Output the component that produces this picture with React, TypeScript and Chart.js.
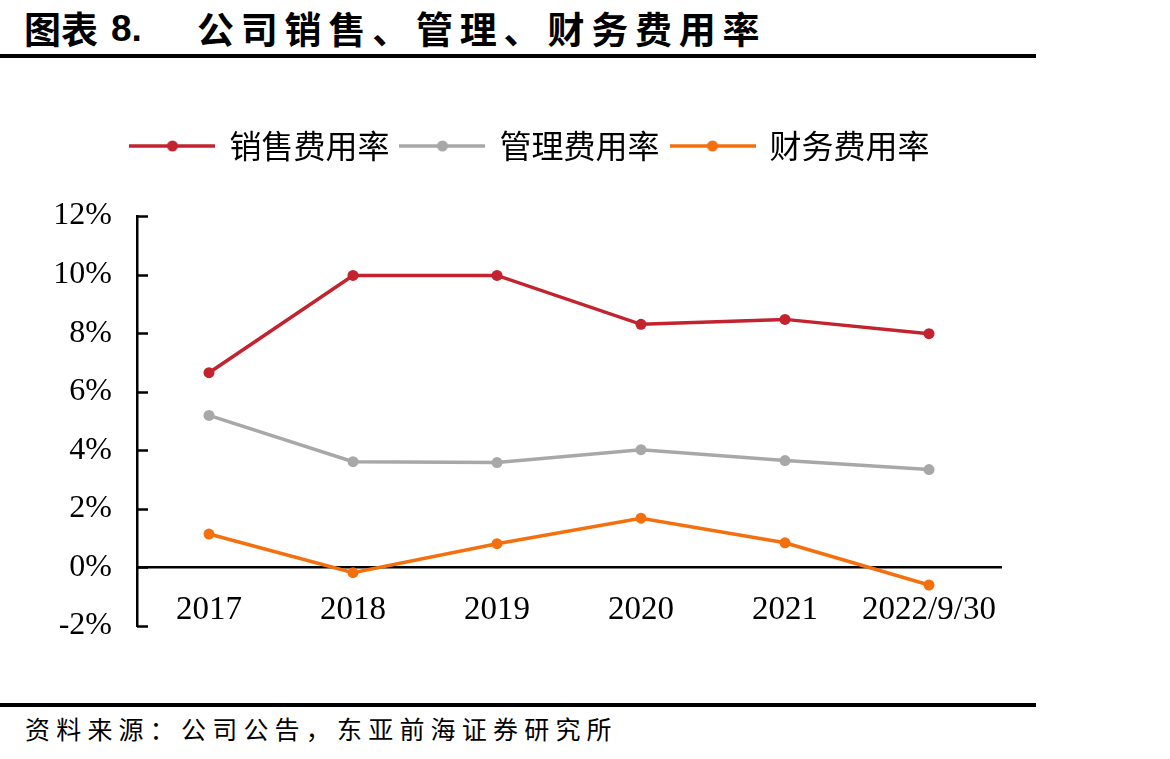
import React, { useEffect, useRef } from "react";
import { Chart, registerables } from "chart.js";

Chart.register(...registerables);

// Expense ratios (%) by reporting period
const periods = ["2017", "2018", "2019", "2020", "2021", "2022/9/30"];
const sellingRate = [6.65, 9.97, 9.97, 8.3, 8.47, 7.98];
const adminRate = [5.19, 3.61, 3.58, 4.02, 3.65, 3.34];
const financeRate = [1.14, -0.18, 0.81, 1.68, 0.84, -0.6];

const seriesNames = ["销售费用率", "管理费用率", "财务费用率"];
const seriesColors = ["#C3232E", "#A8A8A8", "#F4700F"];

const yTickMin = -2;
const yTickMax = 12;
const yTickStep = 2;

const SERIF = "'Liberation Serif', 'Times New Roman', serif";
const CJK = "'Noto Sans CJK SC', 'Noto Sans', sans-serif";

// Legend swatch: a short line with a dot in the middle
function makeLegendSwatch(color: string): HTMLCanvasElement {
  const c = document.createElement("canvas");
  c.width = 86;
  c.height = 14;
  const g = c.getContext("2d")!;
  g.strokeStyle = color;
  g.lineWidth = 3.5;
  g.beginPath();
  g.moveTo(0, 7);
  g.lineTo(86, 7);
  g.stroke();
  g.fillStyle = color;
  g.beginPath();
  g.arc(43, 7, 5.5, 0, Math.PI * 2);
  g.fill();
  return c;
}

// Extra room below the legend, and a small horizontal nudge of its items
const legendTweak = {
  id: "legendTweak",
  beforeLayout(chart: any) {
    const legend = chart.legend;
    if (legend && !legend.__tweaked) {
      const fit = legend.fit.bind(legend);
      legend.fit = function () {
        fit();
        this.height += 44;
      };
      const draw = legend.draw.bind(legend);
      legend.draw = function () {
        const ctx = this.ctx;
        ctx.save();
        ctx.translate(30, 0);
        draw();
        ctx.restore();
      };
      legend.__tweaked = true;
    }
  },
};

// Short tick marks pointing into the plot from the y axis
const innerTicks = {
  id: "innerTicks",
  afterDraw(chart: any) {
    const y = chart.scales.y;
    const left = chart.chartArea.left;
    const ctx = chart.ctx;
    ctx.save();
    ctx.strokeStyle = "#000";
    ctx.lineWidth = 2.5;
    y.ticks.forEach((_t: any, i: number) => {
      const py = Math.round(y.getPixelForTick(i)) + 0.5;
      ctx.beginPath();
      ctx.moveTo(left, py);
      ctx.lineTo(left + 11, py);
      ctx.stroke();
    });
    ctx.restore();
  },
};

export default function App() {
  const canvasRef = useRef<HTMLCanvasElement | null>(null);

  useEffect(() => {
    document.body.style.margin = "0";
    document.body.style.background = "#fff";
    const canvas = canvasRef.current;
    if (!canvas) return;

    const values = [sellingRate, adminRate, financeRate];
    const swatches = seriesColors.map(makeLegendSwatch);

    const chart = new Chart(canvas, {
      type: "line",
      data: {
        labels: periods,
        datasets: values.map((data, i) => ({
          label: seriesNames[i],
          data,
          borderColor: seriesColors[i],
          backgroundColor: seriesColors[i],
          borderWidth: 3.5,
          pointRadius: 5.5,
          pointBorderWidth: 0,
          pointBackgroundColor: seriesColors[i],
          tension: 0,
          fill: false,
        })),
      },
      options: {
        responsive: false,
        animation: false,
        devicePixelRatio: 1,
        layout: { padding: { top: 48, left: 0, right: 169, bottom: 64 } },
        plugins: {
          tooltip: { enabled: false },
          legend: {
            position: "top",
            labels: {
              usePointStyle: true,
              pointStyleWidth: 82,
              padding: 12,
              color: "#000",
              font: { family: CJK, size: 32 },
              generateLabels: (ch: any) =>
                ch.data.datasets.map((ds: any, i: number) => ({
                  text: ds.label,
                  pointStyle: swatches[i],
                  fillStyle: seriesColors[i],
                  strokeStyle: seriesColors[i],
                  lineWidth: 0,
                  fontColor: "#000",
                  hidden: false,
                  datasetIndex: i,
                })),
            },
          },
        },
        scales: {
          x: {
            type: "category",
            offset: true,
            position: { y: 0 } as any,
            grid: { display: false, drawTicks: false },
            border: { display: true, color: "#000", width: 2.5 },
            ticks: {
              color: "#000",
              padding: 23,
              maxRotation: 0,
              autoSkip: false,
              font: { family: SERIF, size: 33 },
            },
          },
          y: {
            min: yTickMin,
            max: yTickMax,
            grid: { display: false, drawTicks: false },
            border: { display: true, color: "#000", width: 2.5 },
            afterFit: (scale: any) => {
              scale.width = 137;
            },
            ticks: {
              stepSize: yTickStep,
              color: "#000",
              padding: 25,
              font: { family: SERIF, size: 32 },
              callback: (v: any) => `${v}%`,
            },
          },
        },
      },
      plugins: [legendTweak, innerTicks],
    });

    return () => chart.destroy();
  }, []);

  const titleBase: React.CSSProperties = {
    position: "absolute",
    top: 10,
    lineHeight: "37px",
    fontSize: 37,
    fontWeight: 700,
    color: "#000",
    whiteSpace: "nowrap",
  };

  return (
    <div
      style={{
        position: "relative",
        width: 1170,
        height: 759,
        background: "#fff",
        overflow: "hidden",
      }}
    >
      <span style={{ ...titleBase, left: 24, fontFamily: CJK }}>图表</span>
      <span
        style={{
          ...titleBase,
          left: 111,
          fontFamily: "'Liberation Sans', Arial, sans-serif",
        }}
      >
        8.
      </span>
      <span
        style={{
          ...titleBase,
          left: 197,
          fontFamily: CJK,
          letterSpacing: "6.8px",
        }}
      >
        公司销售、管理、财务费用率
      </span>
      <div
        style={{
          position: "absolute",
          left: 0,
          top: 54,
          width: 1036,
          height: 4,
          background: "#000",
        }}
      />
      <div style={{ position: "absolute", left: 0, top: 70 }}>
        <canvas ref={canvasRef} width={1170} height={620} />
      </div>
      <div
        style={{
          position: "absolute",
          left: 0,
          top: 703,
          width: 1036,
          height: 4,
          background: "#000",
        }}
      />
      <span
        style={{
          position: "absolute",
          left: 25,
          top: 716,
          fontSize: 25,
          lineHeight: "25px",
          letterSpacing: "6.2px",
          fontFamily: CJK,
          color: "#000",
          whiteSpace: "nowrap",
        }}
      >
        资料来源：公司公告，东亚前海证券研究所
      </span>
    </div>
  );
}
